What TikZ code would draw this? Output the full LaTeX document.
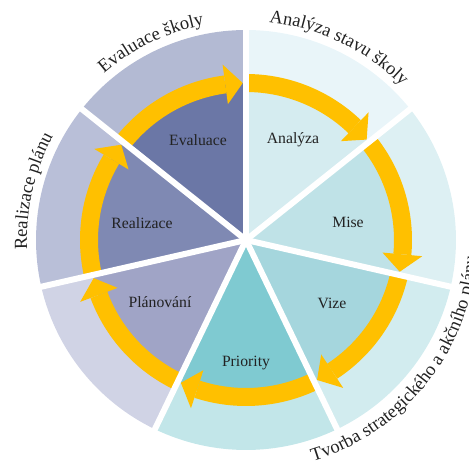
\documentclass[tikz,border=0pt]{standalone}
\usepackage{fontspec}
\setmainfont{Liberation Serif}
\usetikzlibrary{decorations.text}
\definecolor{evalIn}{HTML}{6B77A6}
\definecolor{evalOut}{HTML}{B3BAD3}
\definecolor{realIn}{HTML}{7F89B3}
\definecolor{realOut}{HTML}{B9BFD8}
\definecolor{planIn}{HTML}{A0A4C6}
\definecolor{planOut}{HTML}{D0D3E5}
\definecolor{prioIn}{HTML}{7FCAD1}
\definecolor{prioOut}{HTML}{C2E6E9}
\definecolor{vizeIn}{HTML}{A5D6DD}
\definecolor{vizeOut}{HTML}{D2ECEF}
\definecolor{miseIn}{HTML}{BFE2E7}
\definecolor{miseOut}{HTML}{DDF0F3}
\definecolor{analIn}{HTML}{D5ECF0}
\definecolor{analOut}{HTML}{E9F5F9}
\definecolor{arrowY}{HTML}{FFC000}
\definecolor{txt}{HTML}{222222}
\tikzset{
  innerlabel/.style={text=txt, font=\fontsize{15.7}{18}\selectfont, inner sep=0pt},
  band/.style={draw=arrowY, line width=18},
  headfill/.style={fill=arrowY},
  divider/.style={draw=white, line width=6},
}
\begin{document}
\begin{tikzpicture}[x=1pt,y=1pt]
\useasboundingbox (-246,-224) rectangle (223,240);
% sectors
\foreach \a/\b/\ci/\co in {38.571/90/analIn/analOut, -12.857/38.571/miseIn/miseOut,
  -64.286/-12.857/vizeIn/vizeOut, -115.714/-64.286/prioIn/prioOut,
  -167.143/-115.714/planIn/planOut, 141.429/192.857/realIn/realOut,
  90/141.429/evalIn/evalOut}{
  \fill[\co] (0,0) -- (\a:210) arc[start angle=\a, end angle=\b, radius=210] -- cycle;
  \fill[\ci] (0,0) -- (\a:157) arc[start angle=\a, end angle=\b, radius=157] -- cycle;
}
% arrows (clockwise)
\foreach \s/\e in {141.429/90, 90/38.571, 38.571/-12.857, -12.857/-64.286,
  -64.286/-115.714, -115.714/-167.143, 192.857/141.429}{
  \pgfmathsetmacro\t{\e+1.2}
  \pgfmathsetmacro\hb{\t+6.4}
  \draw[band] (\s:157) arc[start angle=\s, end angle=\hb, radius=157];
  \fill[headfill] (\t:157) -- (\hb:177) -- (\hb:137) -- cycle;
}
% dividers
\foreach \a in {90, 38.571, -12.857, -64.286, -115.714, -167.143, 141.429}{
  \draw[divider] (0,0) -- (\a:214);
}
% inner labels
\node[innerlabel] (evaluace) at (-48,100) {Evaluace};
\node[innerlabel] (analyza) at (47,100) {Analýza};
\node[innerlabel] (mise) at (102,18) {Mise};
\node[innerlabel] (vize) at (86,-63) {Vize};
\node[innerlabel] (priority) at (0,-123) {Priority};
\node[innerlabel] (planovani) at (-86,-62) {Plánování};
\node[innerlabel] (realizace) at (-104,17) {Realizace};
% outer curved texts
\path[decorate, decoration={text along path, text align=center,
  text={|\fontsize{18.5}{20}\selectfont\color{txt}|Evaluace školy}}]
  (175.71:219) arc[start angle=175.71, end angle=55.71, radius=219];
\path[decorate, decoration={text along path, text align=center,
  text={|\fontsize{18.5}{20}\selectfont\color{txt}|Analýza stavu školy}}]
  (124.29:219) arc[start angle=124.29, end angle=4.29, radius=219];
\path[decorate, decoration={text along path, text align=center,
  text={|\fontsize{18.5}{20}\selectfont\color{txt}|Realizace plánu}}]
  (227.14:219) arc[start angle=227.14, end angle=107.14, radius=219];
\path[decorate, decoration={text along path, text align=center,
  text={|\fontsize{18.5}{20}\selectfont\color{txt}|Tvorba strategického a akčního plánu}}]
  (-128.57:231) arc[start angle=-128.57, end angle=51.43, radius=231];
\end{tikzpicture}
\end{document}
